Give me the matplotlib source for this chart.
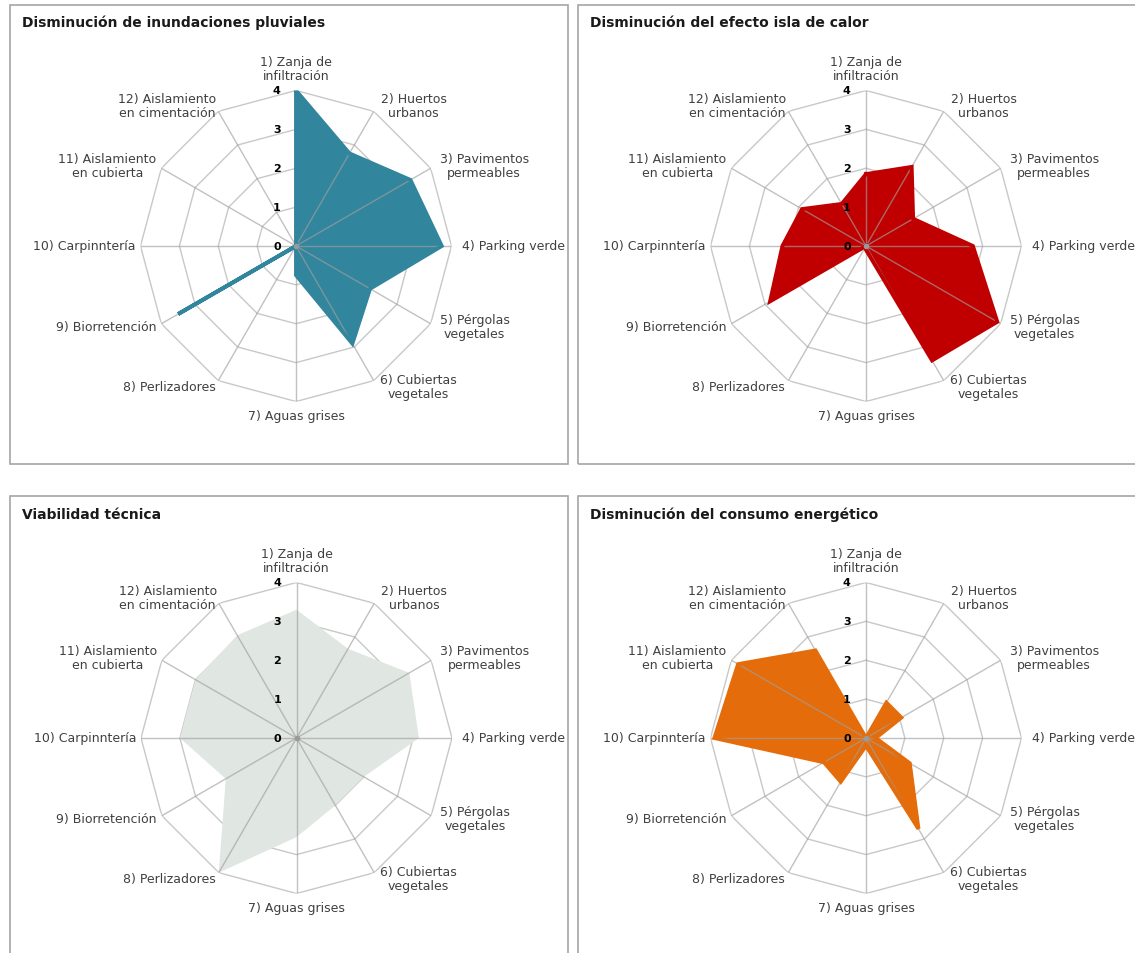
import numpy as np
import matplotlib
matplotlib.use('Agg')
import matplotlib.pyplot as plt
from matplotlib.patches import Rectangle

# categorias (ejes del radar)
categorias = ['1) Zanja de\ninfiltración', '2) Huertos\nurbanos', '3) Pavimentos\npermeables',
              '4) Parking verde', '5) Pérgolas\nvegetales', '6) Cubiertas\nvegetales',
              '7) Aguas grises', '8) Perlizadores', '9) Biorretención',
              '10) Carpinntería', '11) Aislamiento\nen cubierta', '12) Aislamiento\nen cimentación']

# valores (escala 0-4)
pluviales = [4, 2.75, 3.4, 3.75, 2.2, 2.9, 0.75, 0, 3.5, 0, 0, 0]
calor = [1.85, 2.35, 1.4, 2.75, 3.9, 3.4, 0.1, 0, 2.85, 2.15, 1.9, 1.25]
viabilidad = [3.3, 2.65, 3.35, 3.15, 2.0, 2.0, 2.55, 4.0, 2.1, 3.0, 3.0, 3.05]
energetico = [0, 1.05, 1.05, 0.25, 1.3, 2.7, 0.2, 1.3, 1.25, 3.9, 3.8, 2.6]

titulos = ['Disminución de inundaciones pluviales', 'Disminución del efecto isla de calor',
           'Viabilidad técnica', 'Disminución del consumo energético']
series = [pluviales, calor, viabilidad, energetico]
colores = ['#31859C', '#C00000', '#E0E6E1', '#E46C0A']
bordes = [True, True, False, True]
ticks = [0, 1, 2, 3, 4]

W, H = 1135, 954
fig = plt.figure(figsize=(W / 100, H / 100), dpi=100)
fig.patch.set_facecolor('white')

# marcos de cada panel (px)
marcos = [(10, 6, 568, 465), (578, 6, 1200, 465), (10, 497, 568, 1000), (578, 497, 1200, 1000)]
centros = [(296, 247), (866, 247), (296.5, 739), (866, 739)]
titulo_pos = [(22, 23), (590, 23), (22, 515), (590, 515)]
R = 155.5

n = len(categorias)
ang = np.arange(n) * 2 * np.pi / n
ang_c = np.append(ang, ang[0])

# desplazamientos de las etiquetas (px)
offs = [(0, 8, 'center', 'bottom'), (7, 6, 'left', 'center'), (9, 3, 'left', 'center'),
        (10, 0, 'left', 'center'), (9, -3, 'left', 'center'), (6, -6, 'left', 'center'),
        (0, -8, 'center', 'top'), (-3, -6, 'right', 'center'), (-5, -3, 'right', 'center'),
        (-5, 0, 'right', 'center'), (-5, 3, 'right', 'center'), (-2, 6, 'right', 'center')]

for k in range(4):
    x0, y0, x1, y1 = marcos[k]
    fig.patches.append(Rectangle((x0 / W, 1 - y1 / H), (x1 - x0) / W, (y1 - y0) / H,
                                 transform=fig.transFigure, fill=False,
                                 edgecolor='#A6A6A6', lw=1.2))
    tx, ty = titulo_pos[k]
    fig.text(tx / W, 1 - ty / H, titulos[k], fontsize=10, fontweight='bold',
             color='#1a1a1a', ha='left', va='center')

    cx, cy = centros[k]
    ax = fig.add_axes([(cx - R) / W, (H - cy - R) / H, 2 * R / W, 2 * R / H], polar=True)
    ax.set_theta_zero_location('N')
    ax.set_theta_direction(-1)
    ax.set_ylim(0, 4)
    ax.spines['polar'].set_visible(False)
    ax.grid(False)
    ax.set_xticks([])
    ax.set_yticks([])
    ax.patch.set_alpha(0)

    # anillos poligonales
    for r in ticks[1:]:
        ax.plot(ang_c, [r] * (n + 1), color='#C8C8C8', lw=1, zorder=1)

    vals = np.append(series[k], series[k][0])
    ax.fill(ang_c, vals, color=colores[k], zorder=2, lw=0)
    if bordes[k]:
        ax.plot(ang_c, vals, color=colores[k], lw=2.8, zorder=4, solid_joinstyle='miter')

    # radios
    for a in ang:
        ax.plot([a, a], [0, 4], color='#A0A0A0', alpha=0.65, lw=1, zorder=3)
    ax.plot([0], [0], 'o', color='#9A9A9A', ms=3, zorder=5)

    for t in ticks:
        ax.annotate(str(t), xy=(0, t), xytext=(-11, 0), textcoords='offset points',
                    ha='right', va='center', fontsize=8, fontweight='bold', color='black',
                    zorder=6)

    for i, lab in enumerate(categorias):
        dx, dy, ha, va = offs[i]
        ax.annotate(lab, xy=(ang[i], 4), xytext=(dx * 0.72, dy * 0.72),
                    textcoords='offset points', ha=ha, va=va, multialignment='center',
                    fontsize=9, color='#404040', annotation_clip=False, linespacing=1.1)

fig.savefig('out.png', dpi=100, facecolor='white')
